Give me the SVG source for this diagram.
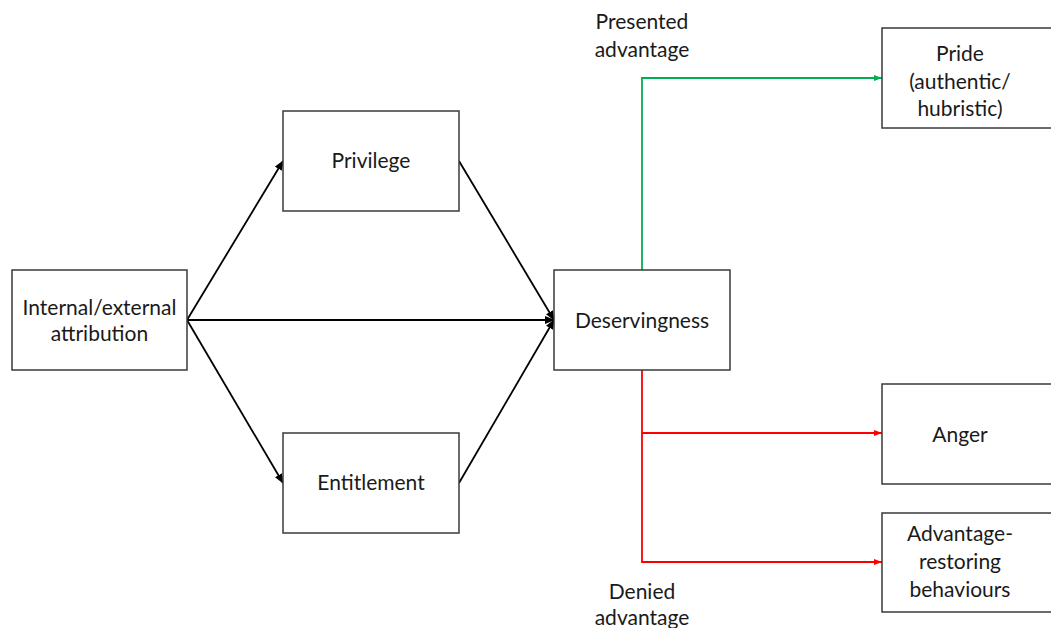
<svg xmlns="http://www.w3.org/2000/svg" width="1051" height="628" viewBox="0 0 1051 628">
<style>
.box{fill:#fff;stroke:#3a3a3a;stroke-width:1.5}
.t{font-family:Lato,"Open Sans",sans-serif;font-size:21px;fill:#1a1a1a;text-anchor:middle}
.k{stroke:#000;stroke-width:1.8;fill:none}
.g{stroke:#00B050;stroke-width:1.8;fill:none}
.r{stroke:#FF0000;stroke-width:1.8;fill:none}
</style>
<defs>
<marker id="ak" markerWidth="10" markerHeight="8" refX="9" refY="4" orient="auto" markerUnits="userSpaceOnUse"><path d="M0,0 L10,4 L0,8 Z" fill="#000"/></marker>
<marker id="ag" markerWidth="8" markerHeight="6" refX="8" refY="3" orient="auto" markerUnits="userSpaceOnUse"><path d="M0,0 L8,3 L0,6 Z" fill="#00B050"/></marker>
<marker id="ar" markerWidth="8" markerHeight="6" refX="8" refY="3" orient="auto" markerUnits="userSpaceOnUse"><path d="M0,0 L8,3 L0,6 Z" fill="#FF0000"/></marker>
</defs>
<rect width="1051" height="628" fill="#fff"/>
<g id="connectors">
<line class="k" x1="187" y1="320" x2="283" y2="161" marker-end="url(#ak)"/>
<line class="k" x1="187" y1="320" x2="283" y2="483" marker-end="url(#ak)"/>
<line class="k" x1="187" y1="320" x2="554" y2="320" marker-end="url(#ak)"/>
<line class="k" x1="459" y1="161" x2="554" y2="320" marker-end="url(#ak)"/>
<line class="k" x1="459" y1="483" x2="554" y2="320" marker-end="url(#ak)"/>
<path class="g" d="M642,270 V78 H882" marker-end="url(#ag)"/>
<path class="r" d="M642,370 V562 H882" marker-end="url(#ar)"/>
<path class="r" d="M642,433 H882" marker-end="url(#ar)"/>
</g>
<g id="attribution"><rect class="box" x="12" y="270" width="175" height="100"/><text class="t" x="99.5" y="315">Internal/external</text><text class="t" x="99.5" y="341">attribution</text></g>
<g id="privilege"><rect class="box" x="283" y="111" width="176" height="100"/><text class="t" x="371" y="168">Privilege</text></g>
<g id="entitlement"><rect class="box" x="283" y="433" width="176" height="100"/><text class="t" x="371" y="490">Entitlement</text></g>
<g id="deservingness"><rect class="box" x="554" y="270" width="176" height="100"/><text class="t" x="642" y="328">Deservingness</text></g>
<g id="pride"><rect class="box" x="882" y="28" width="176" height="100"/><text class="t" x="960" y="61">Pride</text><text class="t" x="960" y="89">(authentic/</text><text class="t" x="960" y="116">hubristic)</text></g>
<g id="anger"><rect class="box" x="882" y="384" width="176" height="100"/><text class="t" x="960" y="442">Anger</text></g>
<g id="restoring"><rect class="box" x="882" y="513" width="176" height="99"/><text class="t" x="960" y="541">Advantage-</text><text class="t" x="960" y="569">restoring</text><text class="t" x="960" y="597">behaviours</text></g>
<g id="labels"><text class="t" x="642" y="29">Presented</text><text class="t" x="642" y="57">advantage</text><text class="t" x="642" y="599">Denied</text><text class="t" x="642" y="625">advantage</text></g>
</svg>
